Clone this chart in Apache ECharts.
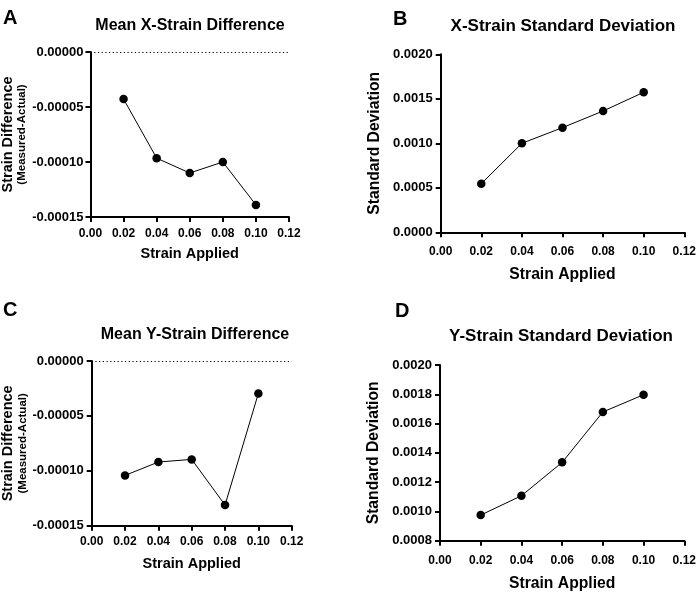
<!DOCTYPE html>
<html><head><meta charset="utf-8">
<script src="https://cdn.jsdelivr.net/npm/echarts@6/dist/echarts.min.js"></script>
<style>html,body{margin:0;padding:0;background:#fff}#c{width:697px;height:601px}</style>
</head><body><div id="c"></div>
<script>
// ---- data ----
const strainApplied = [0.02, 0.04, 0.06, 0.08, 0.10];
const meanXDiff = [-0.0000428, -0.0000965, -0.000110, -0.000100, -0.000139];
const sdX = [0.000546, 0.001000, 0.001176, 0.001363, 0.001573];
const meanYDiff = [-0.0001042, -0.0000920, -0.0000896, -0.0001312, -0.0000295];
const sdY = [0.000975, 0.001107, 0.001335, 0.001679, 0.001797];
const panelLetters = ['A', 'B', 'C', 'D'];
const panelTitles = ['Mean X-Strain Difference', 'X-Strain Standard Deviation', 'Mean Y-Strain Difference', 'Y-Strain Standard Deviation'];
const xTicks = [0, 0.12, 0.02];           // min, max, interval
const yTicksDiff = [-0.00015, 0, 0.00005];
const yTicksSdX = [0, 0.002, 0.0005];
const yTicksSdY = [0.0008, 0.002, 0.0002];
const xName = 'Strain Applied';
const yNameDiff = ['Strain Difference', '(Measured-Actual)'];
const yNameSd = 'Standard Deviation';

const FF = '"Liberation Sans", Arial, sans-serif';
const grids = [
  {left: 90.5, top: 52, width: 198.5, height: 165},
  {left: 440.7, top: 54.3, width: 243.6, height: 178},
  {left: 91.7, top: 361, width: 200, height: 164.7},
  {left: 440, top: 365, width: 244.3, height: 175.7}
];
const pan = [
  {yt: yTicksDiff, dec: 5, xs: 14.5, xGap: 29, xMargin: 11, yMargin: 7, yGap: 61, data: meanXDiff, diff: true},
  {yt: yTicksSdX, dec: 4, xs: 15.7, xGap: 34, xMargin: 13, yMargin: 8, yGap: 58, data: sdX, diff: false},
  {yt: yTicksDiff, dec: 5, xs: 14.5, xGap: 31, xMargin: 10, yMargin: 8, yGap: 62, data: meanYDiff, diff: true},
  {yt: yTicksSdY, dec: 4, xs: 15.7, xGap: 35, xMargin: 14, yMargin: 8, yGap: 58, data: sdY, diff: false}
];
const titlePos = [[190, 26, 16], [563, 26, 17], [195, 334.5, 16], [561, 336.5, 17]];
const letterPos = [[3, 18], [393, 19], [3, 310], [395, 311]];

const axisLine = {show: true, onZero: false, lineStyle: {color: '#000', width: 2}};
const axisTick = {show: true, length: 5, inside: false, lineStyle: {color: '#000', width: 2}};

const option = {
  animation: false,
  backgroundColor: '#fff',
  grid: grids.map(g => Object.assign({containLabel: false, outerBoundsMode: 'none'}, g)),
  xAxis: pan.map((p, i) => ({
    type: 'value', gridIndex: i, min: xTicks[0], max: xTicks[1], interval: xTicks[2],
    axisLine, axisTick, splitLine: {show: false},
    axisLabel: {color: '#000', fontWeight: 'bold', fontSize: 12, fontFamily: FF, margin: p.xMargin,
      formatter: v => v.toFixed(2)},
    name: xName, nameLocation: 'middle', nameGap: p.xGap,
    nameTextStyle: {color: '#000', fontWeight: 'bold', fontSize: p.xs, fontFamily: FF, verticalAlign: 'top'}
  })),
  yAxis: pan.map((p, i) => ({
    type: 'value', gridIndex: i, min: p.yt[0], max: p.yt[1], interval: p.yt[2],
    axisLine, axisTick, splitLine: {show: false},
    axisLabel: {color: '#000', fontWeight: 'bold', fontSize: 13, fontFamily: FF, margin: p.yMargin,
      formatter: v => v.toFixed(p.dec)},
    name: p.diff ? '{a|' + yNameDiff[0] + '}\n{b|' + yNameDiff[1] + '}' : yNameSd,
    nameLocation: 'middle', nameGap: p.yGap, nameRotate: 90,
    nameTextStyle: p.diff ? {
      color: '#000', fontFamily: FF, align: 'center',
      rich: {
        a: {fontSize: 14.5, fontWeight: 'bold', fontFamily: FF, color: '#000', lineHeight: 16, align: 'center'},
        b: {fontSize: 11.5, fontWeight: 'bold', fontFamily: FF, color: '#000', lineHeight: 13, align: 'center'}
      }
    } : {color: '#000', fontWeight: 'bold', fontSize: 15.7, fontFamily: FF}
  })),
  series: pan.map((p, i) => ({
    type: 'line', xAxisIndex: i, yAxisIndex: i,
    data: strainApplied.map((x, k) => [x, p.data[k]]),
    symbol: 'circle', symbolSize: 8.5,
    lineStyle: {color: '#000', width: 1},
    itemStyle: {color: '#000'},
    z: 3,
    markLine: p.diff ? {
      silent: true, symbol: 'none', label: {show: false},
      lineStyle: {color: '#000', type: [1.2, 2.5], width: 1.2},
      data: [{yAxis: 0}]
    } : undefined
  })),
  graphic: [
    ...panelTitles.map((t, i) => ({
      type: 'text', x: titlePos[i][0], y: titlePos[i][1],
      style: {text: t, fill: '#000', font: 'bold ' + titlePos[i][2] + 'px ' + FF, textAlign: 'center', textVerticalAlign: 'middle'}
    })),
    ...panelLetters.map((t, i) => ({
      type: 'text', x: letterPos[i][0], y: letterPos[i][1],
      style: {text: t, fill: '#000', font: 'bold 20px ' + FF, textAlign: 'left', textVerticalAlign: 'middle'}
    }))
  ]
};
const chart = echarts.init(document.getElementById('c'), null, {renderer: 'canvas'});
chart.setOption(option);
</script></body></html>
